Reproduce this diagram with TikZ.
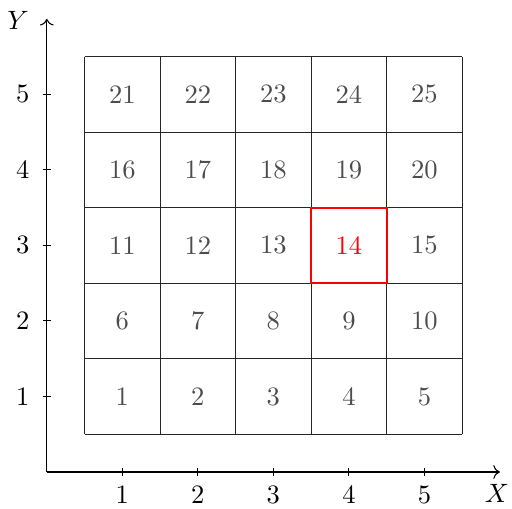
\documentclass[tikz,border=0pt]{standalone}
\usepackage{amsmath}
\usetikzlibrary{arrows.meta,calc,positioning}
\tikzset{
  cellline/.style  = {line width=0.4pt, black!85},
  hotcell/.style   = {line width=0.7pt, red},
  cellnum/.style   = {text=black!70},
  axis line/.style = {->, line width=0.4pt},
  tick/.style      = {line width=0.4pt},
}

\begin{document}
\begin{tikzpicture}[x=1cm,y=1cm]
  \useasboundingbox (-0.62,-0.49) rectangle (6.16,6.25);

  % ---- axes ---------------------------------------------------------------
  \coordinate (origin) at (0,0);
  \coordinate (xend) at (6,0);
  \coordinate (yend) at (0,6);
  \draw[axis line] (origin) -- (xend);
  \draw[axis line] (origin) -- (yend);
  \node (xlab) at (5.96,-0.29) {$X$};
  \node (ylab) at (-0.38,5.98) {$Y$};

  \foreach \i in {1,...,5} {
    \draw[tick] (\i,-0.05) -- (\i,0.05);
    \node[below=1.5pt] (xt\i) at (\i,0) {\i};
    \draw[tick] (-0.05,\i) -- (0.05,\i);
    \node[left=3pt] (yt\i) at (0,\i) {\i};
  }

  % ---- the 5x5 grid of cells, numbered row by row -------------------------
  \draw[cellline,shift={(0.5,0.5)}] (0,0) grid (5,5);
  \foreach \r in {1,...,5} {
    \foreach \c in {1,...,5} {
      \pgfmathtruncatemacro{\n}{(\r-1)*5+\c}
      \ifnum\n=14
        \node[text=red] (c\n) at (\c,\r) {\n};
      \else
        \node[cellnum] (c\n) at (\c,\r) {\n};
      \fi
    }
  }

  % ---- the marked cell ----------------------------------------------------
  \draw[hotcell] (3.5,2.5) rectangle (4.5,3.5);
\end{tikzpicture}
\end{document}
